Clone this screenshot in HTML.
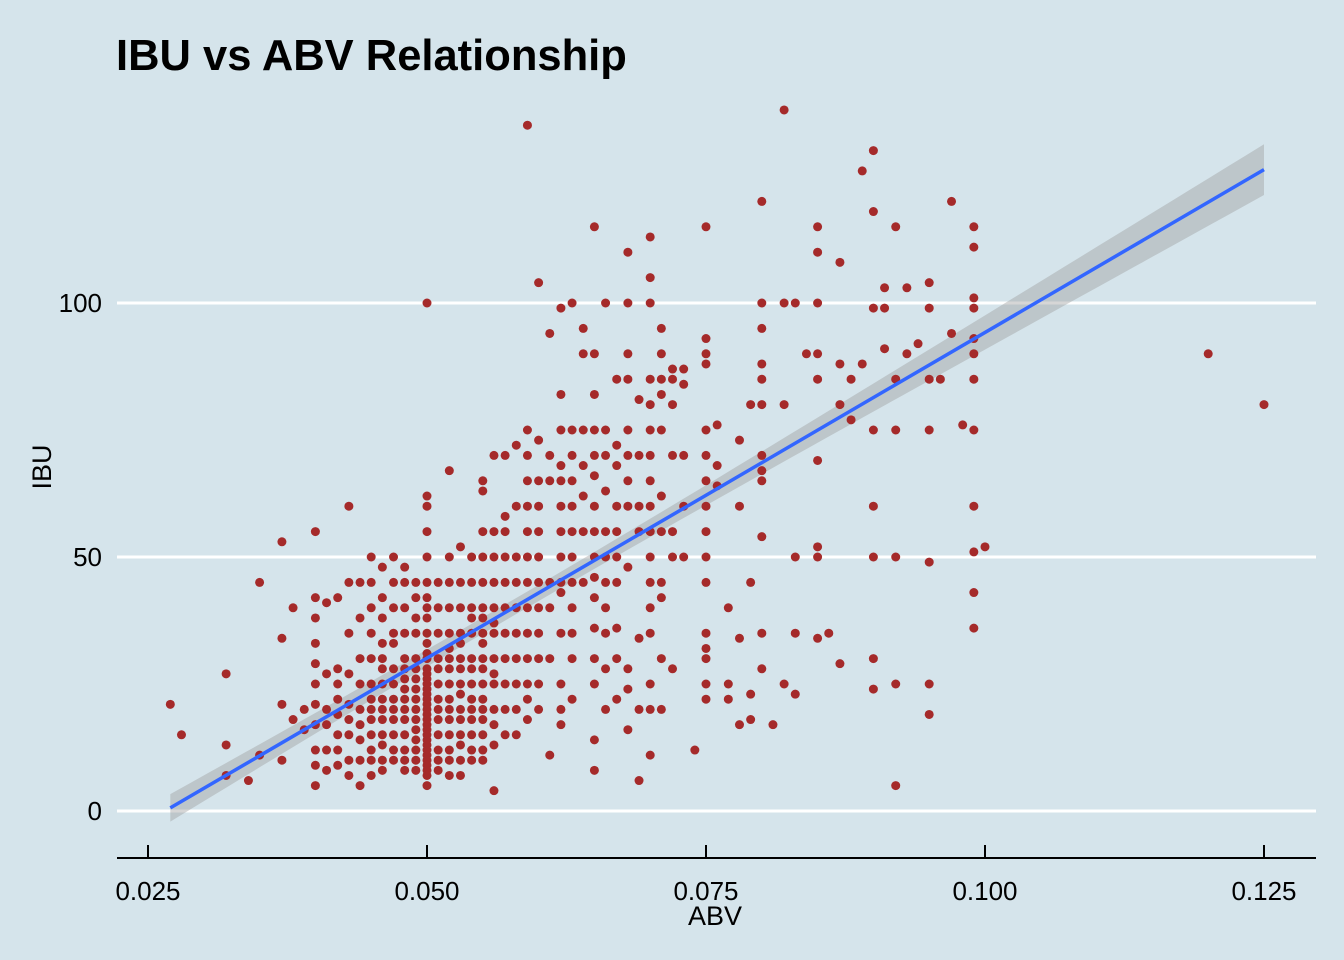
<!DOCTYPE html>
<html><head><meta charset="utf-8"><style>
html,body{margin:0;padding:0;background:#D5E4EB;}
svg{display:block;font-family:"Liberation Sans",Arial,sans-serif;}
</style></head><body>
<svg id="chart" width="1344" height="960" xmlns="http://www.w3.org/2000/svg">
<rect width="1344" height="960" fill="#D5E4EB"/>
<text x="116" y="70" font-size="43.5" font-weight="bold" fill="#000">IBU vs ABV Relationship</text>
<g id="grid"></g>
<g id="band"></g>
<g id="pts"></g>
<g id="line"></g>
<g id="axes"></g>
<text x="715" y="925" font-size="27" text-anchor="middle">ABV</text>
<text transform="translate(51,467) rotate(-90)" font-size="27" text-anchor="middle">IBU</text>
</svg>
<script>
const columnAbv = [0.027,0.028,0.032,0.034,0.035,0.037,0.038,0.039,0.040,0.041,0.042,0.043,0.044,0.045,0.046,0.047,0.048,0.049,0.050,0.051,0.052,0.053,0.054,0.055,0.056,0.057,0.058,0.059,0.060,0.061,0.062,0.063,0.064,0.065,0.066,0.067,0.068,0.069,0.070,0.071,0.072,0.073,0.074,0.075,0.076,0.077,0.078,0.079,0.080,0.081,0.082,0.083,0.084,0.085,0.086,0.087,0.088,0.089,0.090,0.091,0.092,0.093,0.094,0.095,0.096,0.097,0.098,0.099,0.100,0.120,0.125];
const columnIbu = [
[21],[15],[27,13,7],[6],[45,11],[53,34,21,10],[40,18],[20,16],
[55,42,38,33,29,25,21,17,12,9,5],[41,27,20,17,12,8],[42,28,25,22,19,15,12,9],
[60,45,35,27,21,18,15,10,7],[45,38,30,25,20,17,14,10,5],
[50,45,40,35,30,25,22,20,18,15,12,10,7],[48,42,38,33,30,28,25,22,20,18,15,13,10,8],
[50,45,40,35,33,28,25,22,20,18,15,12,10],[48,45,40,35,30,28,26,24,22,20,18,15,12,10,8],
[45,42,38,35,30,28,26,24,22,20,18,16,14,12,10,8],
[100,62,60,55,50,45,42,40,38,35,33,31,30,28,27,26,25,24,23,22,21,20,19,18,17,16,15,14,13,12,11,10,9,8,7,5],
[45,40,35,30,28,25,22,20,18,15,12,10,8],[67,50,45,40,35,32,30,28,25,22,20,18,15,12,10,7],
[52,45,40,35,33,30,28,25,23,20,18,15,13,10,7],[50,45,40,38,35,30,28,25,22,20,18,15,12,10],
[65,63,55,50,45,40,38,35,33,30,28,25,22,20,18,15,12,10],[70,55,50,45,40,37,35,30,27,25,20,17,13,4],
[70,58,55,50,45,40,35,30,25,20,15],[72,60,50,45,40,35,30,25,20,15],
[135,75,70,65,60,55,50,45,40,35,30,25,22,18],[104,73,65,60,55,50,45,40,35,30,25,20],
[94,70,65,45,40,30,11],[99,82,75,68,65,60,55,50,45,43,35,25,20,17],
[100,75,70,65,60,55,50,45,40,35,30,22],[95,90,75,68,62,55,45],
[115,90,82,75,70,66,60,55,50,46,42,36,30,25,14,8],[100,75,70,63,55,50,45,40,35,28,20],
[85,72,68,60,55,50,45,36,30,22],[110,100,90,85,75,70,65,60,48,28,24,16],[81,70,60,55,34,20,6],
[113,105,100,85,80,75,70,65,60,55,50,45,40,35,25,20,11],[95,90,85,82,75,62,55,45,42,30,20],
[87,85,80,70,55,50,28],[87,84,70,60,50],[12],
[115,93,90,88,75,70,65,60,55,50,45,35,32,30,25,22],[76,68,64],[40,25,22],[73,60,34,17],[80,45,18,23],
[120,100,95,88,85,80,70,67,65,54,35,28],[17],[138,100,80,25],[100,50,23,35],[90],
[115,110,100,90,85,69,52,50,34],[35],[108,88,80,29],[85,77],[126,88],
[130,118,99,75,60,50,30,24],[103,99,91],[115,85,75,50,25,5],[103,90],[92],
[104,99,85,75,49,25,19],[85],[120,94],[76],[115,111,101,99,93,90,85,75,60,51,43,36],[52],[90],[80]];
const xTicks = [0.025,0.050,0.075,0.100,0.125];
const xTickLabels = ["0.025","0.050","0.075","0.100","0.125"];
const yTicks = [0,50,100];
const yTickLabels = ["0","50","100"];
const fitSlope = 1282, fitIntercept = -34.0;
const fitRange = [0.027,0.125];

const NS="http://www.w3.org/2000/svg";
const xs = v => 148 + (v-0.025)*11160;
const ys = v => 811 - v*5.08;
function mk(tag, attrs, parent){const e=document.createElementNS(NS,tag);for(const k in attrs)e.setAttribute(k,attrs[k]);parent.appendChild(e);return e;}
const grid=document.getElementById('grid'), axes=document.getElementById('axes');
yTicks.forEach((t,i)=>{
  const l=mk('line',{x1:117,x2:1316,y1:ys(t),y2:ys(t),stroke:'#fff','stroke-width':3},grid);
  
  
  const tx=mk('text',{x:102,y:ys(t)+9,'font-size':26,'text-anchor':'end'},axes);
  tx.textContent=yTickLabels[i];
  
  
});
const ax=mk('line',{x1:117,x2:1316,y1:858,y2:858,stroke:'#000','stroke-width':2},axes);


xTicks.forEach((t,i)=>{
  const tk=mk('line',{x1:xs(t),x2:xs(t),y1:845,y2:858,stroke:'#000','stroke-width':2},axes);
  
  
  const tx=mk('text',{x:xs(t),y:900,'font-size':26,'text-anchor':'middle'},axes);
  tx.textContent=xTickLabels[i];
  
  
});
const pts=document.getElementById('pts');
columnAbv.forEach((a,i)=>{
  columnIbu[i].forEach(v=>{
    const c=mk('circle',{cx:xs(a),cy:ys(v),r:4.5,fill:'#A52A2A'},pts);
    
    
  });
});
const fit = x => fitIntercept + fitSlope*x;
const se = x => Math.sqrt(2.5 + 5011*(x-0.058)*(x-0.058));
let up=[],lo=[];
for(let k=0;k<=60;k++){const x=fitRange[0]+(fitRange[1]-fitRange[0])*k/60;up.push(xs(x)+','+ys(fit(x)+se(x)));lo.unshift(xs(x)+','+ys(fit(x)-se(x)));}
const bp=mk('polygon',{points:up.concat(lo).join(' '),fill:'#999','fill-opacity':0.4},document.getElementById('band'));


const rl=mk('line',{x1:xs(fitRange[0]),y1:ys(fit(fitRange[0])),x2:xs(fitRange[1]),y2:ys(fit(fitRange[1])),stroke:'#3366FF','stroke-width':3.5},document.getElementById('line'));


</script>
</body></html>
